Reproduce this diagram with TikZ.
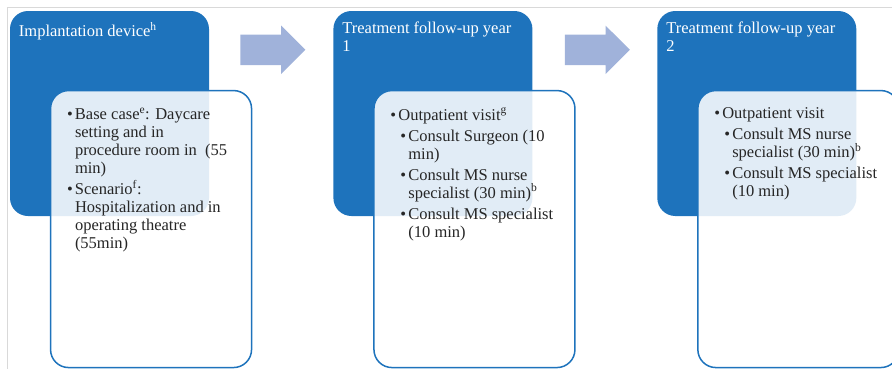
\documentclass[tikz,border=0pt]{standalone}
\usepackage{fontspec}
\setmainfont{Liberation Serif}
\usepackage{xcolor}
\usepackage{tikz}
\usetikzlibrary{shapes,shapes.arrows,positioning,calc}
\definecolor{stgb}{RGB}{30,115,188}
\definecolor{arrb}{RGB}{160,178,218}
\definecolor{frmg}{RGB}{217,217,217}
\newcommand{\bl}{\makebox[8pt][l]{\textbullet}}
\newcommand{\ind}{\hspace*{8pt}}
\newcommand{\sub}{\hspace*{10pt}}
\tikzset{
	every node/.style = { inner sep=0pt, font=\fontsize{16.5}{18}\selectfont },
	stage/.style = { rectangle, rounded corners=18pt, fill=stgb, minimum width=199pt, minimum height=205pt },
	info/.style = { rectangle, rounded corners=18pt, draw=stgb, line width=1.5pt, fill=white, fill opacity=0.87, minimum width=201pt, minimum height=277pt },
	ttl/.style = { text=white, align=left, anchor=north west },
	txt/.style = { align=left, anchor=north west, text=black!85 },
	nxt/.style = { single arrow, fill=arrb, minimum height=65pt, inner ysep=15pt, inner xsep=0pt, single arrow head extend=9pt, anchor=tail },
}
\begin{document}
\begin{tikzpicture}[x=1pt,y=1pt]
\useasboundingbox (0,0) rectangle (892,-368);
\draw[frmg] (7,-400) rectangle (920,-7);

\node (dev) [stage] at (109.5,-113.5)     {};
\node (fu1) [stage,right=124pt of dev]    {};
\node (fu2) [stage,right=124.5pt of fu1]  {};

\node (tdev) [ttl] at ($(dev.north west)+(9,-11)$) {Implantation device\textsuperscript{h}};
\node (tfu1) [ttl] at ($(fu1.north west)+(9,-11)$) {Treatment follow-up year\\1};
\node (tfu2) [ttl] at ($(fu2.north west)+(9,-11)$) {Treatment follow-up year\\2};

\node (a1) [nxt] at ($(dev.north east)+(31,-39)$) {};
\node (a2) [nxt] at ($(fu1.north east)+(32,-39)$) {};

\node (ldev) [info,below right=79pt and 40pt of dev.north west] {};
\node (lfu1) [info,below right=79pt and 40pt of fu1.north west] {};
\node (lfu2) [info,below right=79pt and 40pt of fu2.north west] {};

\node (xdev) [txt] at ($(ldev.north west)+(17,-18)$) {%
\bl Base case\textsuperscript{e}: Daycare\\
\ind setting and in\\
\ind procedure room in~ (55\\
\ind min)\\[3pt]
\bl Scenario\textsuperscript{f}:\\
\ind Hospitalization and in\\
\ind operating theatre\\
\ind (55min)};
\node (xfu1) [txt] at ($(lfu1.north west)+(17,-18)$) {%
\bl Outpatient visit\textsuperscript{g}\\[3pt]
\sub\bl Consult Surgeon (10\\
\sub\ind min)\\[3pt]
\sub\bl Consult MS nurse\\
\sub\ind specialist (30 min)\textsuperscript{b}\\[3pt]
\sub\bl Consult MS specialist\\
\sub\ind (10 min)};
\node (xfu2) [txt] at ($(lfu2.north west)+(17,-18)$) {%
\bl Outpatient visit\\[3pt]
\sub\bl Consult MS nurse\\
\sub\ind specialist (30 min)\textsuperscript{b}\\[3pt]
\sub\bl Consult MS specialist\\
\sub\ind (10 min)};

\end{tikzpicture}
\end{document}
